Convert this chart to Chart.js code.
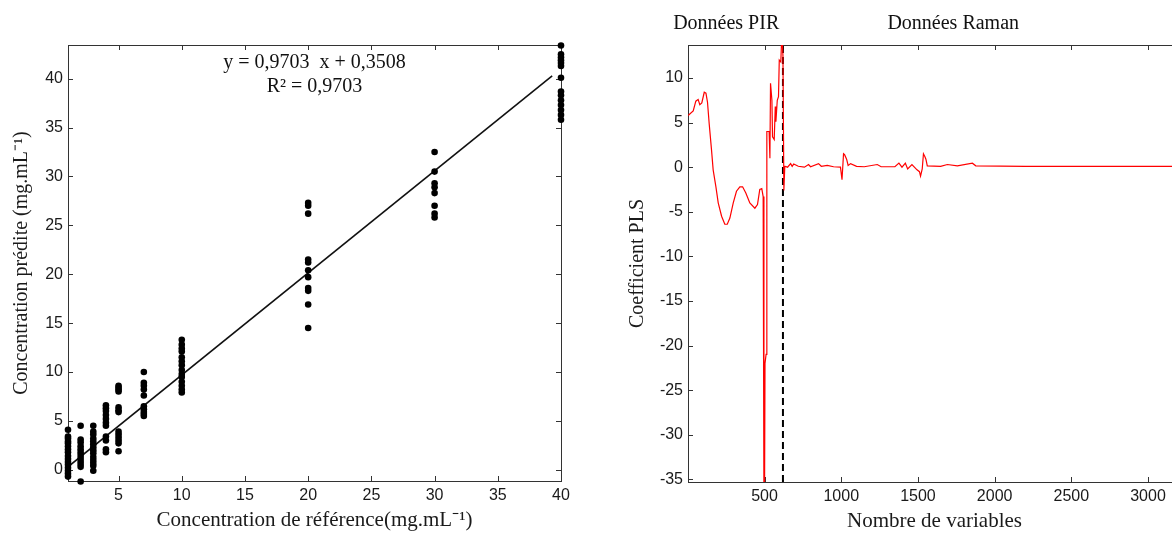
<!DOCTYPE html>
<html>
<head>
<meta charset="utf-8">
<script src="https://cdn.jsdelivr.net/npm/chart.js@4/dist/chart.umd.min.js"></script>
<style>
  html, body { margin: 0; padding: 0; background: #fff; overflow: hidden; }
  body { width: 1172px; height: 537px; position: relative; }
  #leftBox { position: absolute; left: 0; top: 0; }
  #rightBox { position: absolute; left: 610px; top: 0; }
</style>
</head>
<body>
<div id="leftBox"><canvas id="predChart" width="590" height="537"></canvas></div>
<div id="rightBox"><canvas id="plsChart" width="580" height="537"></canvas></div>
<script>
// --- left plot: predicted vs reference concentration ---
const referenceLevels = [1, 2, 3, 4, 5, 7, 10, 20, 30, 40];
const predictedByLevel = [
    [4.1, 3.4, 3.2, 2.9, 2.7, 2.4, 2.1, 1.8, 1.4, 1.1, 0.8, 0.5, 0.2, -0.1, -0.4, -0.7],
    [4.5, 3.1, 2.8, 2.4, 2.1, 1.8, 1.5, 1.2, 0.9, 0.6, 0.3, -1.2],
    [4.5, 3.9, 3.6, 3.2, 2.9, 2.6, 2.3, 2.0, 1.7, 1.3, 1.0, 0.7, 0.4, -0.1],
    [6.6, 6.3, 6.0, 5.6, 5.2, 4.8, 4.5, 3.4, 3.0, 2.1, 1.8],
    [8.6, 8.4, 8.2, 8.0, 6.4, 6.1, 5.9, 3.9, 3.6, 3.3, 3.0, 2.7, 1.9],
    [10.0, 8.9, 8.6, 8.2, 7.6, 6.5, 6.2, 5.9, 5.7, 5.5],
    [13.3, 12.8, 12.4, 12.1, 11.5, 11.1, 10.7, 10.2, 9.8, 9.5, 9.0, 8.6, 8.2, 7.9],
    [27.3, 27.0, 26.2, 21.5, 21.2, 20.4, 19.7, 18.6, 18.3, 16.9, 14.5],
    [32.5, 30.5, 29.3, 28.9, 28.3, 27.0, 26.2, 25.8],
    [43.4, 42.5, 42.2, 41.9, 41.6, 41.3, 40.1, 38.7, 38.3, 37.8, 37.3, 36.8, 36.3, 35.8]
];
const fitLineX = [1, 39.3];
const fitLineY = [0.3, 40.3];
const leftXTicks = [5, 10, 15, 20, 25, 30, 35, 40];
const leftYTicks = [0, 5, 10, 15, 20, 25, 30, 35, 40];

// --- right plot: PLS coefficients ---
const plsVar = [1, 9, 35, 52, 67, 78, 91, 107, 118, 128, 139, 154, 165, 183, 198, 220, 241, 257, 274, 296,
    317, 339, 357, 378, 404, 437, 454, 469, 482, 491, 496, 500, 503, 510, 515, 530, 535, 539, 548, 552,
    563, 570, 574, 583, 591, 596, 606, 613, 620, 626, 632, 650, 670, 680, 690, 720, 760, 787, 800, 852,
    870, 909, 950, 995, 1005, 1010, 1015, 1022, 1035, 1045, 1061, 1100, 1150, 1235, 1260, 1350, 1376, 1396, 1418, 1433,
    1461, 1494, 1510, 1517, 1528, 1536, 1545, 1552, 1561, 1648, 1692, 1757, 1855, 1877, 2200, 2500, 3215];
const plsCoef = [5.8, 5.9, 6.3, 7.4, 7.6, 7.0, 7.2, 8.4, 8.3, 7.3, 4.9, 2.0, -0.3, -2.2, -4.0, -5.5, -6.4, -6.4, -5.7, -4.0,
    -2.7, -2.2, -2.2, -2.9, -4.0, -4.6, -4.2, -2.5, -2.4, -3.3, -37, -37, -22, -21, 4.0, 4.0, 1.0, 9.4, 7.5, 3.4,
    3.1, 6.8, 5.1, 7.5, 7.9, 12.0, 11.8, 15, 12.5, -2.6, 0.1, 0.0, 0.4, 0.1, 0.35, 0.1, 0.0, 0.3, 0.05, 0.4,
    0.1, 0.2, 0.05, 0.0, -1.4, -1.4, 1.5, 1.4, 0.9, 0.2, 0.4, 0.1, 0.05, 0.3, 0.05, 0.05, 0.45, 0.0, 0.45, -0.2,
    0.3, -0.3, -0.5, -1.0, -0.2, 1.5, 1.2, 0.9, 0.15, 0.1, 0.3, 0.15, 0.45, 0.15, 0.1, 0.1, 0.1];
const boundaryX = [620, 620];
const boundaryY = [-35.3, 13.7];
const rightXTicks = [500, 1000, 1500, 2000, 2500, 3000];
const rightYTicks = [-35, -30, -25, -20, -15, -10, -5, 0, 5, 10];

const sansFont = "'Liberation Sans', Arial, sans-serif";
const serifFont = "'Liberation Serif', 'Times New Roman', serif";
const frameColor = "#333333";

// box around the plot with ticks pointing inward (matlab look)
const frameTicks = {
    id: "frameTicks",
    beforeDatasetsDraw(chart) {
        const { ctx, chartArea: a, scales } = chart;
        const len = 5;
        ctx.save();
        ctx.strokeStyle = frameColor;
        ctx.lineWidth = 1;
        ctx.strokeRect(a.left + 0.5, a.top + 0.5, a.right - a.left, a.bottom - a.top);
        ctx.beginPath();
        scales.x.ticks.forEach(t => {
            const px = Math.round(scales.x.getPixelForValue(t.value)) + 0.5;
            ctx.moveTo(px, a.bottom); ctx.lineTo(px, a.bottom - len);
            ctx.moveTo(px, a.top); ctx.lineTo(px, a.top + len);
        });
        scales.y.ticks.forEach(t => {
            const py = Math.round(scales.y.getPixelForValue(t.value)) + 0.5;
            ctx.moveTo(a.left, py); ctx.lineTo(a.left + len, py);
            ctx.moveTo(a.right, py); ctx.lineTo(a.right - len, py);
        });
        ctx.stroke();
        ctx.restore();
    }
};

// text placed at data positions
const noteText = {
    id: "noteText",
    afterDraw(chart, args, opts) {
        const { ctx, scales } = chart;
        ctx.save();
        ctx.fillStyle = "#111";
        ctx.font = opts.font;
        ctx.textAlign = "center";
        ctx.textBaseline = "middle";
        (opts.items || []).forEach(n => {
            const px = scales.x.getPixelForValue(n.x);
            const py = n.pixelY !== undefined ? n.pixelY : scales.y.getPixelForValue(n.y);
            ctx.fillText(n.text, px, py);
        });
        ctx.restore();
    }
};

function fixedTicks(values) {
    return scale => { scale.ticks = values.map(v => ({ value: v })); };
}
const plainLabel = v => String(v);

const tickFont = { family: sansFont, size: 16 };
const titleFont = { family: serifFont, size: 20 };
const xTitleFont = { family: serifFont, size: 21 };

// left chart
const scatterPoints = [];
referenceLevels.forEach((lvl, i) => {
    predictedByLevel[i].forEach(v => scatterPoints.push({ x: lvl, y: v }));
});

new Chart(document.getElementById("predChart").getContext("2d"), {
    type: "scatter",
    data: {
        datasets: [
            {
                data: scatterPoints,
                pointRadius: 3.3,
                pointBackgroundColor: "#000",
                pointBorderWidth: 0,
                clip: false
            },
            {
                data: fitLineX.map((x, i) => ({ x: x, y: fitLineY[i] })),
                showLine: true,
                borderColor: "#111",
                borderWidth: 1.6,
                pointRadius: 0
            }
        ]
    },
    options: {
        responsive: false,
        animation: false,
        layout: { padding: { left: 0, right: 29, top: 45, bottom: 0 } },
        plugins: {
            legend: { display: false },
            tooltip: { enabled: false },
            noteText: {
                font: "20px " + serifFont,
                items: [
                    { text: "y = 0,9703  x + 0,3508", x: 20.5, y: 41.6 },
                    { text: "R\u00B2 = 0,9703", x: 20.5, y: 39.2 }
                ]
            }
        },
        scales: {
            x: {
                type: "linear",
                min: 1,
                max: 40,
                afterBuildTicks: fixedTicks(leftXTicks),
                afterFit: s => { s.height = 56; },
                grid: { display: false, drawTicks: false },
                border: { display: false },
                ticks: { font: tickFont, color: "#1a1a1a", padding: 5, maxRotation: 0, callback: plainLabel },
                title: {
                    display: true,
                    text: "Concentration de référence(mg.mL\u207B\u00B9)",
                    font: xTitleFont,
                    color: "#1a1a1a",
                    padding: { top: 0, bottom: 4 }
                }
            },
            y: {
                type: "linear",
                min: -1.15,
                max: 43.45,
                afterBuildTicks: fixedTicks(leftYTicks),
                afterFit: s => { s.width = 68; },
                grid: { display: false, drawTicks: false },
                border: { display: false },
                ticks: { font: tickFont, color: "#1a1a1a", padding: 5, callback: plainLabel },
                title: {
                    display: true,
                    text: "Concentration prédite (mg.mL\u207B\u00B9)",
                    font: titleFont,
                    color: "#1a1a1a",
                    padding: { top: 10, bottom: 0 }
                }
            }
        }
    },
    plugins: [frameTicks, noteText]
});

// right chart
new Chart(document.getElementById("plsChart").getContext("2d"), {
    type: "scatter",
    data: {
        datasets: [
            {
                data: plsVar.map((x, i) => ({ x: x, y: plsCoef[i] })),
                showLine: true,
                borderColor: "#ff0000",
                borderWidth: 1.2,
                pointRadius: 0,
                tension: 0
            },
            {
                data: boundaryX.map((x, i) => ({ x: x, y: boundaryY[i] })),
                showLine: true,
                borderColor: "#000",
                borderWidth: 2,
                borderDash: [7, 4],
                pointRadius: 0
            }
        ]
    },
    options: {
        responsive: false,
        animation: false,
        layout: { padding: { left: 0, right: 9, top: 45, bottom: 0 } },
        plugins: {
            legend: { display: false },
            tooltip: { enabled: false },
            noteText: {
                font: "20px " + serifFont,
                items: [
                    { text: "Données PIR", x: 250, pixelY: 24 },
                    { text: "Données Raman", x: 1730, pixelY: 24 }
                ]
            }
        },
        scales: {
            x: {
                type: "linear",
                min: 1,
                max: 3215,
                afterBuildTicks: fixedTicks(rightXTicks),
                afterFit: s => { s.height = 55; },
                grid: { display: false, drawTicks: false },
                border: { display: false },
                ticks: { font: tickFont, color: "#1a1a1a", padding: 5, maxRotation: 0, callback: plainLabel },
                title: {
                    display: true,
                    text: "Nombre de variables",
                    font: xTitleFont,
                    color: "#1a1a1a",
                    padding: { top: 0, bottom: 3 }
                }
            },
            y: {
                type: "linear",
                min: -35.3,
                max: 13.7,
                afterBuildTicks: fixedTicks(rightYTicks),
                afterFit: s => { s.width = 78; },
                grid: { display: false, drawTicks: false },
                border: { display: false },
                ticks: { font: tickFont, color: "#1a1a1a", padding: 5, callback: plainLabel },
                title: {
                    display: true,
                    text: "Coefficient PLS",
                    font: titleFont,
                    color: "#1a1a1a",
                    padding: { top: 16, bottom: 0 }
                }
            }
        }
    },
    plugins: [frameTicks, noteText]
});
</script>
</body>
</html>
